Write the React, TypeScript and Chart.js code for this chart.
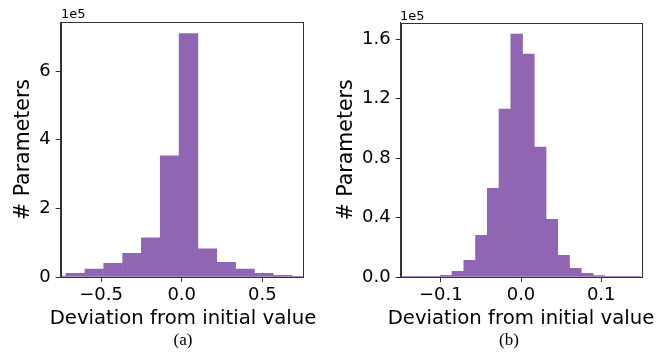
import React, { useEffect, useRef } from "react";
import { Chart, registerables } from "chart.js";
Chart.register(...registerables);

// ---- Panel (a) data ----
const binCentersA = [-0.776, -0.659, -0.542, -0.425, -0.308, -0.192, -0.075, 0.042, 0.159, 0.276, 0.393, 0.509, 0.626, 0.743];
const countsA = [3000, 11000, 23000, 40000, 69000, 114000, 353000, 709000, 82000, 43000, 23000, 10500, 5000, 2000];
const xTicksA = [-0.5, 0, 0.5];
const yTicksA = [0, 200000, 400000, 600000];
const xRangeA = [-0.75, 0.75];
const yMaxA = 743000;

// ---- Panel (b) data ----
const binCentersB = [-0.1518, -0.1372, -0.1226, -0.1079, -0.0933, -0.0787, -0.064, -0.0494, -0.0347, -0.0201, -0.0054, 0.0092, 0.0239, 0.0385, 0.0532, 0.0678, 0.0825, 0.0971, 0.1118, 0.1264, 0.1411, 0.1557];
const countsB = [100, 150, 250, 400, 1100, 3800, 11200, 28000, 59700, 112900, 163400, 149900, 87300, 38800, 14600, 5800, 2500, 900, 400, 250, 150, 100];
const xTicksB = [-0.1, 0, 0.1];
const yTicksB = [0, 40000, 80000, 120000, 160000];
const xRangeB = [-0.15, 0.15];
const yMaxB = 171000;

const X_TITLE = "Deviation from initial value";
const Y_TITLE = "# Parameters";

const BAR_COLOR = "#9066b3";
const SPINE = "#333333";
const FONT = "'DejaVu Sans', sans-serif";
const PAD_BOTTOM = 26.5;

const fmtX = (v: number) => (v < -1e-9 ? "\u2212" : "") + Math.abs(v).toFixed(1);

const framePlugin = {
  id: "frame",
  afterDraw(chart: any) {
    const { ctx, chartArea } = chart;
    ctx.save();
    ctx.strokeStyle = SPINE;
    ctx.lineWidth = 1;
    ctx.strokeRect(
      Math.round(chartArea.left) + 0.5,
      Math.round(chartArea.top) + 0.5,
      Math.round(chartArea.right - chartArea.left),
      Math.round(chartArea.bottom - chartArea.top)
    );
    ctx.restore();
  },
};

type PanelProps = {
  centers: number[];
  counts: number[];
  xTicks: number[];
  yTicks: number[];
  xRange: number[];
  yMax: number;
  yFmt: (v: number) => string;
  axisW: number;
  padRight: number;
  padTop: number;
  yTitlePad: number;
};

function Panel(p: PanelProps) {
  const ref = useRef<HTMLCanvasElement>(null);
  useEffect(() => {
    const chart = new Chart(ref.current!, {
      type: "bar",
      data: {
        datasets: [
          {
            data: p.centers.map((c, i) => ({ x: c, y: p.counts[i] })),
            backgroundColor: BAR_COLOR,
            borderWidth: 0,
            barPercentage: 1,
            categoryPercentage: 1,
            clip: 0 as any,
          },
        ],
      },
      options: {
        responsive: false,
        animation: false,
        layout: { padding: { left: 0, right: p.padRight, top: p.padTop, bottom: PAD_BOTTOM } },
        plugins: { legend: { display: false }, tooltip: { enabled: false } },
        scales: {
          x: {
            type: "linear",
            offset: false,
            min: p.xRange[0],
            max: p.xRange[1],
            afterBuildTicks: (s: any) => {
              s.ticks = p.xTicks.map((v) => ({ value: v }));
            },
            afterFit: (s: any) => {
              s.height = 358 - PAD_BOTTOM - 277;
            },
            grid: { display: true, offset: false, drawOnChartArea: false, drawTicks: true, tickLength: 5, color: SPINE, tickColor: SPINE },
            border: { display: true, color: SPINE, width: 1 },
            ticks: {
              color: "#000",
              font: { family: FONT, size: 18 },
              padding: 3,
              maxRotation: 0,
              callback: (v: any) => fmtX(Number(v)),
            },
            title: { display: false },
          },
          y: {
            type: "linear",
            min: 0,
            max: p.yMax,
            afterBuildTicks: (s: any) => {
              s.ticks = p.yTicks.map((v) => ({ value: v }));
            },
            afterFit: (s: any) => {
              s.width = p.axisW;
            },
            grid: { display: true, drawOnChartArea: false, drawTicks: true, tickLength: 5, color: SPINE, tickColor: SPINE },
            border: { display: true, color: SPINE, width: 1 },
            ticks: {
              color: "#000",
              font: { family: FONT, size: 18 },
              padding: 5,
              callback: (v: any) => p.yFmt(Number(v)),
            },
            title: {
              display: true,
              text: Y_TITLE,
              color: "#000",
              font: { family: FONT, size: 20.5 },
              padding: { top: p.yTitlePad, bottom: 0 },
            },
          },
        },
      },
      plugins: [framePlugin],
    });
    return () => chart.destroy();
  }, []);
  return <canvas ref={ref} width={334} height={358} style={{ display: "block", width: 334, height: 358 }} />;
}

const textBase: React.CSSProperties = { position: "absolute", whiteSpace: "nowrap", color: "#000" };
const xTitleStyle: React.CSSProperties = { ...textBase, top: 306, transform: "translateX(-50%)", fontFamily: FONT, fontSize: 19.7, lineHeight: "24px" };

export default function App() {
  return (
    <div style={{ position: "fixed", left: 0, top: 0, width: 668, height: 358, background: "#fff", overflow: "hidden" }}>
      <div style={{ position: "absolute", left: 0, top: 0 }}>
        <Panel
          centers={binCentersA}
          counts={countsA}
          xTicks={xTicksA}
          yTicks={yTicksA}
          xRange={xRangeA}
          yMax={yMaxA}
          yFmt={(v) => String(Math.round(v / 1e5))}
          axisW={60.7}
          padRight={31.3}
          padTop={22}
          yTitlePad={11.5}
        />
      </div>
      <div style={{ position: "absolute", left: 334, top: 0 }}>
        <Panel
          centers={binCentersB}
          counts={countsB}
          xTicks={xTicksB}
          yTicks={yTicksB}
          xRange={xRangeB}
          yMax={yMaxB}
          yFmt={(v) => (v / 1e5).toFixed(1)}
          axisW={66.7}
          padRight={26.7}
          padTop={22.7}
          yTitlePad={0}
        />
      </div>
      <div style={{ ...xTitleStyle, left: 183 }}>{X_TITLE}</div>
      <div style={{ ...xTitleStyle, left: 521 }}>{X_TITLE}</div>
      <div style={{ ...textBase, left: 61, top: 7, fontFamily: FONT, fontSize: 13, lineHeight: "13px" }}>1e5</div>
      <div style={{ ...textBase, left: 400, top: 9, fontFamily: FONT, fontSize: 13, lineHeight: "13px" }}>1e5</div>
      <div style={{ ...textBase, left: 183, top: 330, transform: "translateX(-50%)", fontFamily: "'Liberation Serif', serif", fontSize: 17, lineHeight: "20px" }}>(a)</div>
      <div style={{ ...textBase, left: 509, top: 330, transform: "translateX(-50%)", fontFamily: "'Liberation Serif', serif", fontSize: 17, lineHeight: "20px" }}>(b)</div>
    </div>
  );
}
